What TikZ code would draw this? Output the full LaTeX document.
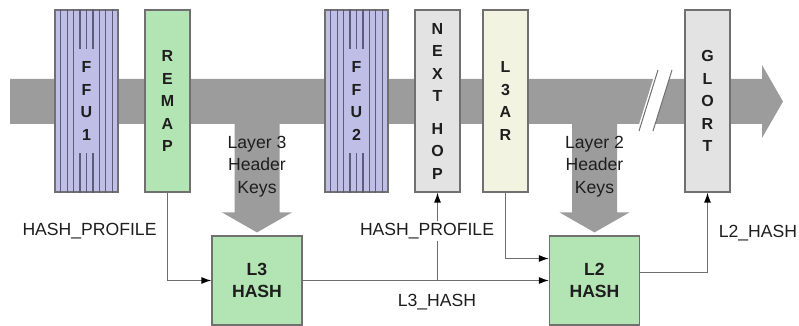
\documentclass[tikz,border=0pt]{standalone}
\usepackage{fontspec}
\setmainfont{Liberation Sans}
\usepackage{xcolor}
\usetikzlibrary{arrows.meta,positioning,calc,backgrounds}
\definecolor{Band}{HTML}{9C9C9C}
\definecolor{Edge}{HTML}{707070}
\definecolor{Lav}{HTML}{BEBEE6}
\definecolor{Hatch}{HTML}{5C5C78}
\definecolor{Mint}{HTML}{B3E4B3}
\definecolor{LGray}{HTML}{E3E3E3}
\definecolor{Cream}{HTML}{F3F3E2}
\definecolor{Wire}{HTML}{6E6E6E}
\definecolor{Ink}{HTML}{1E1E1E}

\begin{document}
\begin{tikzpicture}[
  x=0.5pt, y=-0.5pt,
  font=\fontsize{8.8}{11.25}\selectfont,
  blk/.style={draw=Edge, line width=0.6pt, minimum height=91pt, inner sep=0pt,
    align=center, text=Ink, font=\fontsize{8}{11.25}\selectfont\bfseries},
  wide/.style={blk, fill=Lav, minimum width=31.5pt},
  slim/.style={blk, minimum width=22.5pt},
  hsh/.style={draw=Edge, line width=0.6pt, fill=Mint, minimum width=45pt,
    minimum height=44.5pt, inner sep=0pt, align=center, text=Ink,
    font=\fontsize{8.8}{11}\selectfont\bfseries},
  hatch/.style={draw=Hatch, line width=0.6pt},
  wire/.style={draw=Wire, line width=0.6pt, -{Latex[length=5pt,width=3.5pt,color=black]}},
  lbl/.style={text=Ink, inner sep=1pt},
  brk/.style={line width=0.5pt, draw=Edge}
]
  \useasboundingbox (0,0) rectangle (799,326);

  \node[wide] (ffu1) at (86.5,101) {F\\F\\U\\1};
  \node[slim, fill=Mint] (remap) at (167.5,101) {R\\E\\M\\A\\P};
  \node[wide] (ffu2) at (356.5,101) {F\\F\\U\\2};
  \node[slim, fill=LGray] (nexthop) at (437.5,101) {N\\E\\X\\T\\[5pt]H\\O\\P};
  \node[slim, fill=Cream] (l3ar) at (505.5,101) {L\\3\\A\\R};
  \node[slim, fill=LGray] (glort) at (707.5,101) {G\\L\\O\\R\\T};

  \node[hsh] (l3hash) at (257,280.5) {L3\\HASH};
  \node[hsh] (l2hash) at (594.5,280.5) {L2\\HASH};

  % striped FFU blocks
  \foreach \n in {ffu1,ffu2}{
    \foreach \k in {1,2,3,7,8,9}
      \draw[hatch] ($(\n.north west)!\k/10!(\n.north east)$) -- ($(\n.south west)!\k/10!(\n.south east)$);
    \foreach \k in {4,5,6}{
      \draw[hatch] ($(\n.north west)!\k/10!(\n.north east)$) -- ++(0,40);
      \draw[hatch] ($(\n.south west)!\k/10!(\n.south east)$) -- ++(0,-40);
    }
  }

  \begin{scope}[on background layer]
    \fill[Band] (10,79) -- (762,79) -- (762,65) -- (783,101.5) -- (762,138) -- (762,124) -- (10,124) -- cycle;
    \foreach \h in {l3hash,l2hash}
      \fill[Band] ($(\h.north)+(-22.5,-116)$) -- ($(\h.north)+(22.5,-116)$)
        -- ($(\h.north)+(22.5,-23)$) -- ($(\h.north)+(35,-23)$) -- ($(\h.north)+(0,-3)$)
        -- ($(\h.north)+(-35,-23)$) -- ($(\h.north)+(-22.5,-23)$) -- cycle;
  \end{scope}

  % break in the pipeline
  \fill[white] (656,70) -- (672,70) -- (653,131) -- (637,131) -- cycle;
  \draw[brk] (658,70) -- (639,131);
  \draw[brk] (672,70) -- (653,131);

  \node[lbl, align=center] (keys3) at ($(l3hash.north)+(0,-69)$) {Layer 3\\Header\\Keys};
  \node[lbl, align=center] (keys2) at ($(l2hash.north)+(0,-69)$) {Layer 2\\Header\\Keys};

  \coordinate (jn) at (nexthop.south |- l3hash.east);
  \draw[wire] (remap.south) |- (l3hash.west);
  \draw[wire] (l3hash.east) -- (l2hash.west);
  \draw[wire] (jn) -- (nexthop.south);
  \draw[wire] (l3ar.south) |- ($(l2hash.west)+(0,-22)$);
  \draw[wire] ($(l2hash.east)+(0,-8)$) -| (glort.south);

  \node[lbl] (prof1) at (89.5,231) {HASH\_PROFILE};
  \node[lbl, fill=white] (prof2) at (427,231) {HASH\_PROFILE};
  \node[lbl] (l3out) at (437,302) {L3\_HASH};
  \node[lbl] (l2out) at (758,233) {L2\_HASH};
\end{tikzpicture}
\end{document}
